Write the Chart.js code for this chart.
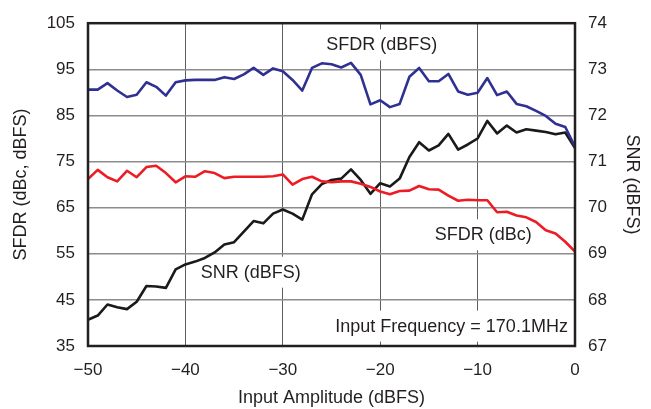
<!DOCTYPE html>
<html>
<head>
<meta charset="utf-8">
<script src="https://cdn.jsdelivr.net/npm/chart.js@4.4.0/dist/chart.umd.min.js"></script>
<style>
  html, body { margin: 0; padding: 0; background: #fff; }
  #wrap { width: 651px; height: 409px; }
</style>
</head>
<body>
<div id="wrap"><canvas id="perfChart" width="651" height="409"></canvas></div>
<script>
// Input amplitude sweep (dBFS)
const amplitude = [
  -50, -49, -48, -47, -46, -45, -44, -43, -42, -41,
  -40, -39, -38, -37, -36, -35, -34, -33, -32, -31,
  -30, -29, -28, -27, -26, -25, -24, -23, -22, -21,
  -20, -19, -18, -17, -16, -15, -14, -13, -12, -11,
  -10, -9, -8, -7, -6, -5, -4, -3, -2, -1, 0
];

// SFDR referenced to full scale (left axis)
const sfdrDbfs = [
  90.6, 90.6, 92.0, 90.4, 89.0, 89.5, 92.2, 91.2, 89.3, 92.2,
  92.6, 92.7, 92.7, 92.7, 93.3, 92.9, 93.9, 95.3, 93.8, 95.2,
  94.6, 92.7, 90.4, 95.3, 96.3, 96.1, 95.4, 96.4, 93.8, 87.4,
  88.3, 86.8, 87.5, 93.4, 95.3, 92.4, 92.4, 94.0, 90.2, 89.5,
  89.9, 93.1, 89.4, 90.2, 87.5, 87.0, 86.0, 84.9, 83.2, 82.5, 78.2
];

// SFDR referenced to carrier (left axis)
const sfdrDbc = [
  71.2, 73.2, 71.6, 70.7, 73.0, 71.6, 73.8, 74.1, 72.5, 70.5,
  71.8, 71.7, 72.9, 72.5, 71.4, 71.7, 71.7, 71.7, 71.7, 71.8,
  72.2, 70.0, 71.2, 71.7, 70.7, 70.5, 70.7, 70.7, 70.2, 69.5,
  68.5, 67.9, 68.6, 68.7, 69.7, 69.0, 68.9, 67.6, 66.5, 66.7,
  66.6, 66.6, 64.0, 64.1, 63.3, 62.9, 61.9, 60.1, 59.4, 57.6, 55.5
];

// SNR (right axis)
const snrDbfs = [
  67.57, 67.66, 67.90, 67.84, 67.80, 67.96, 68.30, 68.29, 68.26, 68.66,
  68.77, 68.83, 68.91, 69.03, 69.20, 69.25, 69.48, 69.71, 69.66, 69.87,
  69.96, 69.87, 69.74, 70.29, 70.51, 70.60, 70.63, 70.83, 70.60, 70.30,
  70.53, 70.46, 70.63, 71.10, 71.42, 71.24, 71.35, 71.60, 71.26, 71.37,
  71.50, 71.88, 71.61, 71.78, 71.63, 71.70, 71.67, 71.64, 71.59, 71.63, 71.29
];

const xTicks = [-50, -40, -30, -20, -10, 0];
const leftTicks = [35, 45, 55, 65, 75, 85, 95, 105];
const rightTicks = [67, 68, 69, 70, 71, 72, 73, 74];

// in-plot captions, anchored in left-axis data units
const notes = [
  { text: 'SFDR (dBFS)', x: -19.85, y: 100.2, align: 'center' },
  { text: 'SNR (dBFS)', x: -33.3, y: 50.9, align: 'center' },
  { text: 'SFDR (dBc)', x: -9.43, y: 59.0, align: 'center' },
  { text: 'Input Frequency = 170.1MHz', x: -0.73, y: 39.2, align: 'right' }
];

const FONT = '"Liberation Sans", Arial, Helvetica, sans-serif';
const INK = '#231f20';

const toPoints = (ys) => amplitude.map((a, i) => ({ x: a, y: ys[i] }));
const minus = (v) => String(v).replace('-', '\u2212');

// white boxes behind the captions hide the grid, frame goes on last
const calloutPlugin = {
  id: 'callouts',
  beforeDatasetsDraw(chart) {
    const { ctx, scales: { x, y } } = chart;
    ctx.save();
    ctx.font = '18px ' + FONT;
    ctx.textBaseline = 'middle';
    ctx.textAlign = 'left';
    notes.forEach(n => {
      const px = x.getPixelForValue(n.x);
      const py = y.getPixelForValue(n.y);
      const w = ctx.measureText(n.text).width;
      const left = n.align === 'right' ? px - w : px - w / 2;
      ctx.fillStyle = '#fff';
      ctx.fillRect(left - 6, py - 16, w + 12, 31);
      ctx.fillStyle = INK;
      ctx.fillText(n.text, left, py);
    });
    ctx.restore();
  },
  afterDraw(chart) {
    const { ctx, chartArea: a } = chart;
    ctx.save();
    ctx.strokeStyle = INK;
    ctx.lineWidth = 2.5;
    ctx.strokeRect(a.left, a.top, a.right - a.left, a.bottom - a.top);
    ctx.restore();
  }
};

const lineStyle = (color) => ({
  borderColor: color,
  backgroundColor: color,
  borderWidth: 2.6,
  borderJoinStyle: 'round',
  borderCapStyle: 'round',
  pointRadius: 0,
  tension: 0,
  fill: false
});

new Chart(document.getElementById('perfChart').getContext('2d'), {
  type: 'line',
  data: {
    datasets: [
      { label: 'SFDR (dBFS)', data: toPoints(sfdrDbfs), yAxisID: 'y', ...lineStyle('#2e3192') },
      { label: 'SFDR (dBc)', data: toPoints(sfdrDbc), yAxisID: 'y', ...lineStyle('#ed1c24') },
      { label: 'SNR (dBFS)', data: toPoints(snrDbfs), yAxisID: 'y1', ...lineStyle('#1a1a1a') }
    ]
  },
  options: {
    responsive: false,
    animation: false,
    layout: { padding: { top: 17, left: 0, right: 0, bottom: 0 } },
    plugins: {
      legend: { display: false },
      tooltip: { enabled: false }
    },
    scales: {
      x: {
        type: 'linear',
        min: -50,
        max: 0,
        afterBuildTicks: (s) => { s.ticks = xTicks.map(v => ({ value: v })); },
        afterFit: (s) => { s.height = 63; },
        grid: { color: '#5e5e5e', lineWidth: 1, drawTicks: false },
        border: { display: false },
        ticks: { padding: 14, color: INK, font: { family: FONT, size: 17 }, callback: (v) => minus(v) },
        title: { display: true, text: 'Input Amplitude (dBFS)', color: INK, font: { family: FONT, size: 18 }, padding: { top: 0, bottom: 0 } }
      },
      y: {
        position: 'left',
        min: 35,
        max: 105,
        afterBuildTicks: (s) => { s.ticks = leftTicks.map(v => ({ value: v })); },
        afterFit: (s) => { s.width = 88; },
        grid: { color: '#8c8c8c', lineWidth: 1.5, drawTicks: false },
        border: { display: false },
        ticks: { padding: 13, color: INK, font: { family: FONT, size: 17 } },
        title: { display: true, text: 'SFDR (dBc, dBFS)', color: INK, font: { family: FONT, size: 18 }, padding: { top: 10, bottom: 0 } }
      },
      y1: {
        position: 'right',
        min: 67,
        max: 74,
        afterBuildTicks: (s) => { s.ticks = rightTicks.map(v => ({ value: v })); },
        afterFit: (s) => { s.width = 76; },
        grid: { drawOnChartArea: false, drawTicks: false },
        border: { display: false },
        ticks: { padding: 13, color: INK, font: { family: FONT, size: 17 } },
        title: { display: true, text: 'SNR (dBFS)', color: INK, font: { family: FONT, size: 18 }, padding: { top: 8, bottom: 0 } }
      }
    }
  },
  plugins: [calloutPlugin]
});
</script>
</body>
</html>
